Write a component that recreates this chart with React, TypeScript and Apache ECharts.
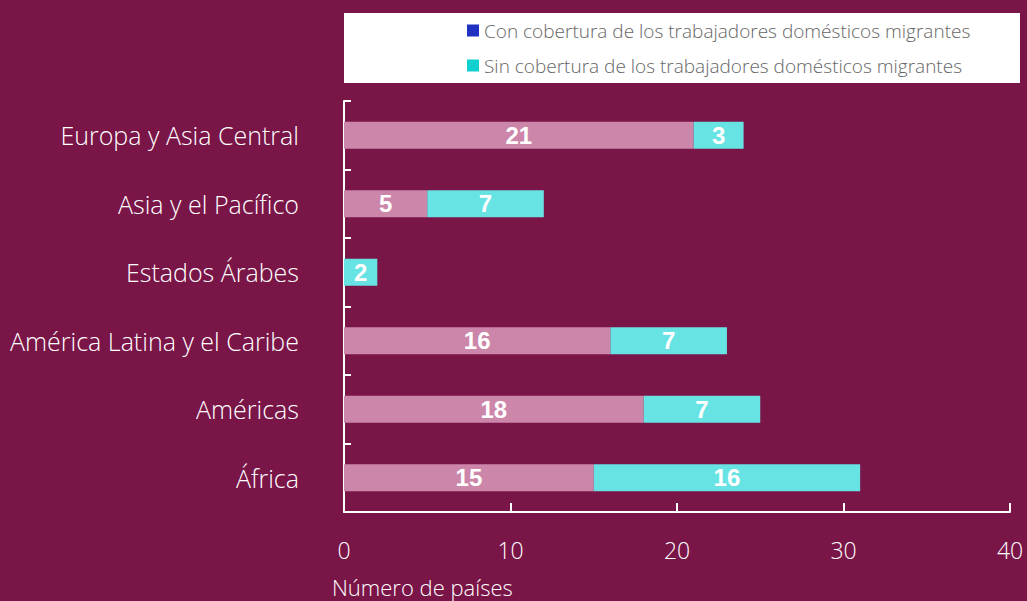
import React, { useEffect, useRef } from "react";
import * as echarts from "echarts";

const categories = [
  "África",
  "Américas",
  "América Latina y el Caribe",
  "Estados Árabes",
  "Asia y el Pacífico",
  "Europa y Asia Central",
];
const conCobertura = [15, 18, 16, 0, 5, 21];
const sinCobertura = [16, 7, 7, 2, 7, 3];
const seriesNames = [
  "Con cobertura de los trabajadores domésticos migrantes",
  "Sin cobertura de los trabajadores domésticos migrantes",
];
const xTicks = { min: 0, max: 40, interval: 10 };

const BG = "#7a1548";
const PINK = "#cc86aa";
const CYAN = "#68e3e3";
const FONT = "'Open Sans', 'Noto Sans', sans-serif";

export default function App() {
  const ref = useRef<HTMLDivElement>(null);
  useEffect(() => {
    if (!ref.current) return;
    const chart = echarts.init(ref.current, null, { renderer: "svg" });
    const label = {
      show: true,
      position: "inside",
      color: "#ffffff",
      fontWeight: "bold",
      fontSize: 24,
      fontFamily: "'Liberation Sans', Arial, sans-serif",
      formatter: (p: any) => (p.value ? String(p.value) : ""),
    };
    chart.setOption({
      animation: false,
      backgroundColor: BG,
      graphic: [
        {
          type: "rect",
          z: -1,
          shape: { x: 344, y: 13, width: 676, height: 70 },
          style: { fill: "#ffffff" },
        },
        {
          type: "text",
          left: 332,
          top: 576,
          style: {
            text: "Número de países",
            fill: "#ffffff",
            fontSize: 22,
            fontFamily: FONT,
            fontWeight: 300,
          },
        },
      ],
      legend: {
        orient: "vertical",
        left: 462,
        top: 16,
        itemWidth: 12,
        itemHeight: 12,
        itemGap: 16,
        icon: "rect",
        textStyle: { color: "#666666", fontSize: 19, fontFamily: FONT, fontWeight: 300 },
        data: [
          { name: seriesNames[0], itemStyle: { color: "#2030c0" } },
          { name: seriesNames[1], itemStyle: { color: "#10d0d0" } },
        ],
      },
      grid: { left: 344, right: 17, top: 101, bottom: 89 },
      xAxis: {
        type: "value",
        min: xTicks.min,
        max: xTicks.max,
        interval: xTicks.interval,
        splitLine: { show: false },
        axisLine: { show: true, lineStyle: { color: "#ffffff", width: 2 } },
        axisTick: { show: true, inside: true, length: 9, lineStyle: { color: "#ffffff", width: 2 } },
        axisLabel: { color: "#ffffff", fontSize: 23, fontFamily: FONT, fontWeight: 300, margin: 26 },
      },
      yAxis: {
        type: "category",
        data: categories,
        axisLine: { show: true, lineStyle: { color: "#ffffff", width: 2 } },
        axisTick: { show: true, inside: true, length: 7, lineStyle: { color: "#ffffff", width: 2 } },
        axisLabel: { color: "#ffffff", fontSize: 25, fontFamily: FONT, fontWeight: 300, margin: 45 },
      },
      series: [
        {
          name: seriesNames[0],
          type: "bar",
          stack: "total",
          barWidth: 27,
          data: conCobertura,
          itemStyle: { color: PINK },
          label,
        },
        {
          name: seriesNames[1],
          type: "bar",
          stack: "total",
          barWidth: 27,
          data: sinCobertura,
          itemStyle: { color: CYAN },
          label,
        },
      ],
    });
    return () => chart.dispose();
  }, []);
  return <div ref={ref} style={{ width: 1027, height: 601, position: "absolute", left: 0, top: 0 }} />;
}
